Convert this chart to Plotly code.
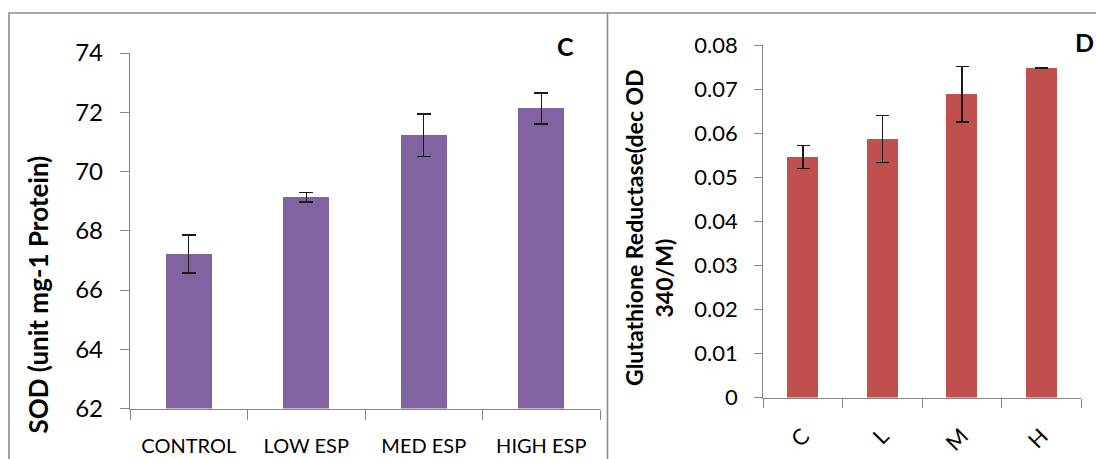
import plotly.graph_objects as go

# ---- data ----
sod_categories = ["CONTROL", "LOW ESP", "MED ESP", "HIGH ESP"]
sod_values = [67.22, 69.13, 71.22, 72.13]
sod_errors = [0.64, 0.16, 0.72, 0.52]
sod_ticks = [62, 64, 66, 68, 70, 72, 74]

gr_categories = ["C", "L", "M", "H"]
gr_values = [0.0546, 0.0587, 0.0688, 0.0748]
gr_errors = [0.0026, 0.0053, 0.0063, 0.0001]
gr_ticks = [0, 0.01, 0.02, 0.03, 0.04, 0.05, 0.06, 0.07, 0.08]
gr_ticktext = ["0", "0.01", "0.02", "0.03", "0.04", "0.05", "0.06", "0.07", "0.08"]

W, H = 1096, 459
FONT = "Lato, 'Open Sans', sans-serif"
AXIS_GRAY = "#868686"
BORDER_GRAY = "#8c8c8c"


def px_x(p):
    return p / W


def px_y(p):
    return 1 - p / H


fig = go.Figure()

fig.add_trace(go.Bar(
    x=sod_categories, y=sod_values, width=0.39,
    marker=dict(color="#8064A2", line=dict(width=0)),
    error_y=dict(type="data", array=sod_errors, visible=True,
                 color="#1a1a1a", thickness=1.4, width=7),
    xaxis="x", yaxis="y", showlegend=False,
))

fig.add_trace(go.Bar(
    x=gr_categories, y=gr_values, width=0.39,
    marker=dict(color="#C0504D", line=dict(width=0)),
    error_y=dict(type="data", array=gr_errors, visible=True,
                 color="#1a1a1a", thickness=1.4, width=6.5),
    xaxis="x2", yaxis="y2", showlegend=False,
))

axis_common = dict(showline=True, linecolor=AXIS_GRAY, linewidth=1.3,
                   ticks="outside", tickcolor=AXIS_GRAY, tickwidth=1.3,
                   showgrid=False, zeroline=False, fixedrange=True,
                   automargin=False)

fig.update_layout(
    width=W, height=H,
    margin=dict(l=0, r=0, t=0, b=0, autoexpand=False),
    paper_bgcolor="white", plot_bgcolor="white",
    font=dict(family=FONT, color="black"),
    bargap=0,
    xaxis=dict(domain=[px_x(130), px_x(600)], anchor="y", type="category",
               tickson="boundaries", ticklen=10,
               tickfont=dict(size=20), ticklabelstandoff=19,
               **axis_common),
    yaxis=dict(domain=[px_y(408.5), px_y(53)], anchor="x", range=[62, 74],
               tickvals=sod_ticks, ticklen=9,
               tickfont=dict(size=24), ticklabelstandoff=12,
               **axis_common),
    xaxis2=dict(domain=[px_x(763.3), px_x(1081.3)], anchor="y2", type="category",
                tickson="boundaries", ticklen=9, tickangle=-45,
                tickfont=dict(size=22), ticklabelstandoff=16,
                **axis_common),
    yaxis2=dict(domain=[px_y(397.5), px_y(45)], anchor="x2", range=[0, 0.08],
                tickvals=gr_ticks, ticktext=gr_ticktext, ticklen=8,
                tickfont=dict(size=22), ticklabelstandoff=12,
                **axis_common),
)

# panel borders
fig.add_shape(type="rect", xref="paper", yref="paper",
              x0=px_x(9), y0=-0.2, x1=1.2, y1=px_y(13),
              line=dict(color=BORDER_GRAY, width=1.6), layer="below")
fig.add_shape(type="line", xref="paper", yref="paper",
              x0=px_x(607.5), y0=-0.2, x1=px_x(607.5), y1=px_y(13),
              line=dict(color=BORDER_GRAY, width=1.6), layer="below")

# axis titles and panel letters
fig.add_annotation(text="<b>SOD (unit mg-1 Protein)</b>", textangle=-90,
                   xref="paper", yref="paper", x=px_x(37.5), y=px_y(295),
                   showarrow=False, font=dict(size=26, family=FONT),
                   xanchor="center", yanchor="middle")
fig.add_annotation(text="<b>Glutathione Reductase(dec OD</b>", textangle=-90,
                   xref="paper", yref="paper", x=px_x(634), y=px_y(228),
                   showarrow=False, font=dict(size=23, family=FONT),
                   xanchor="center", yanchor="middle")
fig.add_annotation(text="<b>340/M)</b>", textangle=-90,
                   xref="paper", yref="paper", x=px_x(663.5), y=px_y(278),
                   showarrow=False, font=dict(size=23, family=FONT),
                   xanchor="center", yanchor="middle")
fig.add_annotation(text="<b>C</b>", xref="paper", yref="paper",
                   x=px_x(565), y=px_y(46), showarrow=False,
                   font=dict(size=25, family=FONT), xanchor="center", yanchor="middle")
fig.add_annotation(text="<b>D</b>", xref="paper", yref="paper",
                   x=px_x(1084), y=px_y(42), showarrow=False,
                   font=dict(size=25, family=FONT), xanchor="center", yanchor="middle")

fig.write_html("out.html", config={"displayModeBar": False})
